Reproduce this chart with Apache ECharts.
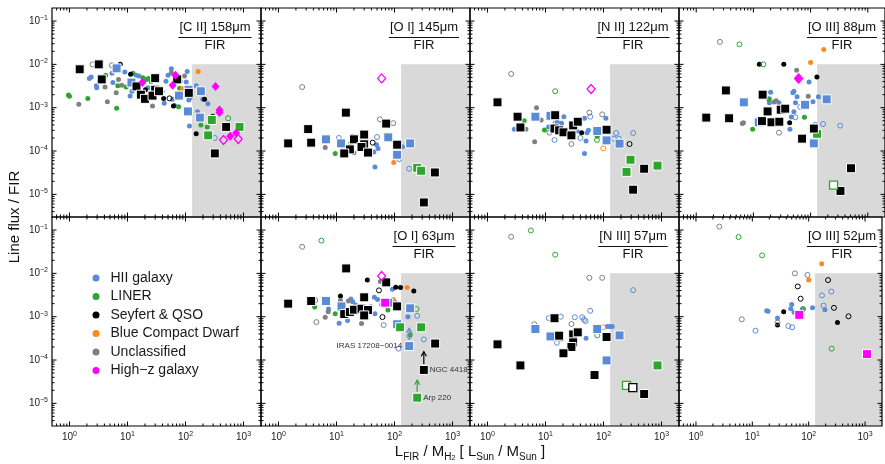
<!DOCTYPE html>
<html><head><meta charset="utf-8">
<script src="https://cdn.jsdelivr.net/npm/echarts@6/dist/echarts.min.js"></script>
<style>html,body{margin:0;padding:0;background:#fff}#c{width:885px;height:464px}</style>
</head><body><div id="c"></div>
<script>
// ---------- DATA ----------
// point format: [L_FIR/M_H2, line/FIR, class+marker, optional label]
// class: H=HII, L=LINER, S=Seyfert&QSO, B=BCD, U=Unclassified, Z=High-z
// marker: d=dot, o=open circle, s=square, q=open square, D=diamond, E=open diamond
const classNames = {H:'HII galaxy', L:'LINER', S:'Seyfert & QSO', B:'Blue Compact Dwarf', U:'Unclassified', Z:'High\u2212z galaxy'};
const classOrder = ['H','L','S','B','U','Z'];
const panelTitles = ['[C II] 158\u03bcm','[O I] 145\u03bcm','[N II] 122\u03bcm','[O III] 88\u03bcm','','[O I] 63\u03bcm','[N III] 57\u03bcm','[O III] 52\u03bcm'];
const xTickValues = [1, 10, 100, 1000];
const yTickValues = [1e-5, 1e-4, 1e-3, 1e-2, 1e-1];
const shadeFrom = [130, 1e-2];

const ciiData = [
 [1.5,7.7e-3,'Ss'],[3.2,1.0e-2,'Ss'],[3.6,4.5e-3,'Ss'],[14.3,3.1e-3,'Ss'],[17,2.0e-3,'Ss'],[20,1.6e-3,'Ss'],[30,4.8e-3,'Ss'],[30,2.6e-3,'Ss'],[27,1.9e-3,'Ss'],[35,2.4e-3,'Ss'],[72,4.5e-3,'Ss'],[114,2.2e-3,'Ss'],[502,3.6e-4,'Ss'],[320,8.8e-5,'Ss'],
 [6.5,8.1e-3,'Hs'],[11.7,3.8e-3,'Hs'],[77,1.9e-3,'Hs'],[113,2.6e-3,'Hs'],[184,2.4e-3,'Hs'],[110,8.2e-4,'Hs'],[177,5.9e-4,'Hs'],
 [284,5.2e-4,'Ls'],[246,2.3e-4,'Ls'],[853,3.6e-4,'Ls'],
 [18,3.8e-3,'ZD'],[60,3.3e-3,'ZD'],[67,5.6e-3,'ZD'],[329,3.1e-3,'ZD'],[385,8.8e-4,'ZD'],[385,7.7e-4,'ZD'],[589,2.2e-4,'ZD'],[748,2.6e-4,'ZD'],
 [452,1.8e-4,'ZE'],[809,1.9e-4,'ZE'],
 [165,6.8e-3,'Bd'],[88,2.75e-3,'Bd'],
 [0.96,1.96e-3,'Ld'],[1.0,1.83e-3,'Ld'],[2.07,1.64e-3,'Ld'],[6.5,9.7e-4,'Ld'],[4.2,5.6e-3,'Ld'],[6.8,3.2e-3,'Ld'],[9.5,3.0e-3,'Ld'],[12.4,6.2e-3,'Ld'],[18.4,4.9e-3,'Ld'],[21,4.5e-3,'Ld'],[23,4.75e-3,'Ld'],[25.6,4.0e-3,'Ld'],[76,1.05e-3,'Ld'],[184,4.0e-4,'Ld'],[237,3.6e-4,'Ld'],[79,2.8e-3,'Ld'],
 [5.4,9.5e-3,'Lo'],[544,5.7e-4,'Lo'],
 [7.5,1.0e-2,'Sd'],[11.3,5.9e-3,'Sd'],[20.4,2.6e-3,'Sd'],[42,1.64e-3,'Sd'],[62,1.09e-3,'Sd'],[153,2.5e-4,'Sd'],[213,1.56e-3,'Sd'],
 [53,1.64e-3,'So'],[296,6.2e-4,'So'],
 [1.45,1.2e-3,'Ud'],[4.1,3.0e-3,'Ud'],[4.5,1.37e-3,'Ud'],[6.4,2.2e-3,'Ud'],[7.0,4.5e-3,'Ud'],[8,3.3e-3,'Ud'],[27,1.09e-3,'Ud'],[57,6.4e-3,'Ud'],[96,5.4e-3,'Ud'],
 [2.5,1.0e-2,'Uo'],
 [2.2,4.75e-3,'Hd'],[2.37,5.1e-3,'Hd'],[2.9,3.2e-3,'Hd'],[2.95,2.9e-3,'Hd'],[5.4,6.2e-3,'Hd'],[5.6,3.8e-3,'Hd'],[9,6.7e-3,'Hd'],[11.1,1.86e-3,'Hd'],[12,2.4e-3,'Hd'],[14.1,5.6e-3,'Hd'],[15.7,5.4e-3,'Hd'],[22.4,2.9e-3,'Hd'],[25.6,2.2e-3,'Hd'],[39.6,2.4e-3,'Hd'],[43,1.26e-3,'Hd'],[46,4.1e-3,'Hd'],[57,7.9e-3,'Hd'],[50,5.6e-3,'Hd'],[60,1.56e-3,'Hd'],[65,1.13e-3,'Hd'],[103,3.9e-3,'Hd'],[107,6.8e-3,'Hd'],[114,1.5e-3,'Hd'],[120,1.7e-3,'Hd'],[117,3.8e-4,'Hd'],[153,3.2e-3,'Hd'],[161,8.1e-4,'Hd'],[199,1.56e-3,'Hd'],[243,1.24e-3,'Hd'],[81,4.1e-3,'Hd'],
 [320,2.0e-4,'Ho']
];
const oi145Data = [
 [2.56,3.0e-3,'Uo'],[56,5.4e-4,'Uo'],[95,4.4e-4,'Uo'],
 [60,4.75e-3,'ZE'],
 [14.5,7.7e-4,'Ss'],[3.25,3.2e-4,'Ss'],[1.47,1.5e-4,'Ss'],[3.66,1.56e-4,'Ss'],[72,4.3e-4,'Ss'],[20,1.86e-4,'Ss'],[30,2.4e-4,'Ss'],[30,1.43e-4,'Ss'],[17,1.09e-4,'Ss'],[13.6,8.8e-5,'Ss'],[27,1.24e-4,'Ss'],[35,9.2e-5,'Ss'],[111,1.4e-4,'Ss'],[496,3.2e-5,'Ss'],[320,6.5e-6,'Ss'],
 [6.6,1.86e-4,'Hs'],[12,1.5e-4,'Hs'],[78,2.07e-4,'Hs'],[186,1.5e-4,'Hs'],[111,8.2e-5,'Hs'],
 [246,4.1e-5,'Ls'],[288,3.5e-5,'Ls'],
 [97,5.4e-5,'Bd'],
 [9.5,8.8e-5,'Ld'],[17.7,1.56e-4,'Ld'],
 [6.4,1.2e-4,'Ud'],
 [42,1.56e-4,'So'],
 [19,2.2e-4,'Hd'],[20,9.1e-5,'Hd'],[46,4.3e-5,'Hd'],[49,1.4e-4,'Hd'],[52,1.15e-4,'Hd'],[137,1.26e-4,'Hd'],[44,9.5e-5,'Hd'],[26,1.3e-4,'Hd'],
 [11,2.0e-4,'Ho'],[50,2.1e-4,'Ho'],[179,3.9e-5,'Ho'],[120,6.5e-5,'Ho']
];
const nii122Data = [
 [2.56,6.0e-3,'Uo'],[57,7.7e-4,'Uo'],[95,7.0e-4,'Uo'],[28,1.45e-4,'Uo'],[11.7,2.65e-4,'Uo'],
 [14.7,2.4e-3,'Lo'],[77,1.8e-4,'Lo'],
 [61,2.7e-3,'ZE'],
 [1.49,1.33e-3,'Ss'],[3.3,6.2e-4,'Ss'],[3.7,3.5e-4,'Ss'],[14.3,3.3e-4,'Ss'],[17.2,3.0e-4,'Ss'],[20.4,2.7e-4,'Ss'],[28,2.3e-4,'Ss'],[30,3.9e-4,'Ss'],[36,4.75e-4,'Ss'],[113,3.1e-4,'Ss'],[502,3.9e-5,'Ss'],[324,1.28e-5,'Ss'],[14.7,6.7e-4,'Ss'],
 [6.7,6.2e-4,'Hs'],[12.2,6.5e-4,'Hs'],[78,2.9e-4,'Hs'],[113,1.76e-4,'Hs'],[189,1.48e-4,'Hs'],
 [292,6.3e-5,'Ls'],[249,3.3e-5,'Ls'],[853,4.6e-5,'Ls'],
 [7,1.0e-3,'Ud'],[8.4,5.2e-4,'Ud'],[4.6,3.2e-4,'Ud'],[6.5,1.64e-4,'Ud'],
 [4.3,5.0e-4,'Ld'],[9.6,3.05e-4,'Ld'],[78,2.2e-4,'Ld'],
 [99,1.15e-4,'Bo'],
 [281,1.45e-4,'So'],
 [42,2.65e-4,'Sd'],
 [2.9,3.2e-4,'Hd'],[20.7,6.2e-4,'Hd'],[18.9,4.35e-4,'Hd'],[11.3,3.6e-4,'Hd'],[47,5.7e-4,'Hd'],[47,8.8e-5,'Hd'],[50,1.7e-4,'Hd'],[52,2.65e-4,'Hd'],[110,5.7e-4,'Hd'],[35,2.9e-4,'Hd'],[16,4.6e-4,'Hd'],[55,3.0e-4,'Hd'],
 [14.3,1.8e-4,'Ho'],[59,6.2e-4,'Ho'],[324,2.6e-4,'Ho'],[165,2.6e-4,'Ho'],[184,1.93e-4,'Ho'],[150,1.93e-4,'Ho'],[40,2.0e-4,'Ho'],[15,4.4e-4,'Ho']
];
const oiii88Data = [
 [2.6,3.3e-2,'Uo'],[28,2.65e-4,'Uo'],
 [5.7,2.9e-2,'Lo'],[14.9,1.0e-2,'Lo'],
 [170,2.2e-2,'Bd'],[100,1.1e-2,'Bd'],
 [12.7,1.0e-2,'Sd'],[34,1.0e-2,'Sd'],[129,5.1e-3,'Sd'],[43,4.5e-4,'Sd'],
 [57,7.3e-3,'Ud'],[6.7,4.5e-4,'Ud'],[6.4,4.3e-4,'Ud'],[23,1.35e-3,'Ud'],[25,1.45e-3,'Ud'],[91,1.83e-3,'Ud'],
 [60,4.7e-3,'ZD'],[62,4.7e-3,'ZE'],
 [94,3.9e-3,'Hd'],[20,2.26e-3,'Hd'],[19,1.3e-3,'Hd'],[28,1.3e-3,'Hd'],[49,2.2e-3,'Hd'],[51,2.4e-3,'Hd'],[58,1.8e-3,'Hd'],[54.4,1.3e-3,'Hd'],[51,8.1e-4,'Hd'],[46,6.1e-4,'Hd'],[43.5,3.2e-4,'Hd'],[110,1.37e-3,'Hd'],[137,1.8e-3,'Hd'],[19,1.6e-3,'Hd'],
 [54,6.0e-4,'Ho'],[66,1.04e-3,'Ho'],[165,4.2e-4,'Ho'],[329,3.85e-4,'Ho'],[120,4.0e-4,'Ho'],
 [3.3,2.5e-3,'Ss'],[14.5,2.0e-3,'Ss'],[1.5,5.9e-4,'Ss'],[3.76,5.7e-4,'Ss'],[17.7,8.2e-4,'Ss'],[30,9.0e-4,'Ss'],[36,9.5e-4,'Ss'],[14.1,4.9e-4,'Ss'],[20.7,4.6e-4,'Ss'],[28.4,4.75e-4,'Ss'],[114,3.3e-4,'Ss'],[71,1.93e-4,'Ss'],[509,4.0e-5,'Ss'],[333,1.2e-5,'Ss'],
 [6.8,1.33e-3,'Hs'],[80,1.17e-3,'Hs'],[191,1.56e-3,'Hs'],[12.4,4.6e-4,'Hs'],[114,1.5e-4,'Hs'],
 [130,2.5e-4,'Ls'],[252,1.64e-5,'Lq'],
 [9.7,3.2e-4,'Ld'],[18.6,1.56e-3,'Ld'],[78,6.0e-4,'Ld']
];
const oi63Data = [
 [2.56,4.1e-2,'Uo'],[4.5,7.5e-4,'Uo'],
 [5.5,5.7e-2,'Lo'],[4.3,2.4e-3,'Lo'],[239,1.5e-3,'Lo'],
 [1.47,2.0e-3,'Ss'],[3.66,2.3e-3,'Ss'],[14.7,1.3e-2,'Ss'],[72,6.2e-3,'Ss'],[30,2.8e-3,'Ss'],[13.6,1.15e-3,'Ss'],[17,1.28e-3,'Ss'],[20,1.45e-3,'Ss'],[27,1.53e-3,'Ss'],[35,1.43e-3,'Ss'],[30,1.07e-3,'Ss'],[111,1.73e-3,'Ss'],[502,2.4e-4,'Ss'],[320,5.9e-5,'Ss','NGC 4418'],
 [6.6,2.3e-3,'Hs'],[12.2,1.73e-3,'Hs'],[78,2.1e-3,'Hs'],[186,1.56e-3,'Hs'],[111,6.7e-4,'Hs'],[179,2.1e-4,'Hs','IRAS 17208\u22120014'],
 [69,2.1e-3,'Zs'],[60,8.7e-3,'ZE'],
 [125,5.7e-4,'Ls'],[288,5.7e-4,'Ls'],[246,1.35e-5,'Ls','Arp 220'],
 [165,4.7e-3,'Bd'],[95,2.5e-3,'Bd'],
 [34,7.0e-3,'Sd'],[105,4.8e-3,'Sd'],[127,4.75e-3,'Sd'],[215,3.9e-3,'Sd'],[11.7,3.0e-3,'Sd'],
 [54,4.05e-3,'So'],[62,9.8e-4,'So'],
 [57,6.5e-3,'Ud'],[6.4,9.7e-4,'Ud'],[27,7.0e-4,'Ud'],[11.7,2.4e-3,'Ud'],[7.2,1.3e-3,'Ud'],[16,2.3e-3,'Ud'],
 [4.2,1.67e-3,'Ld'],[9.5,1.17e-3,'Ld'],[77,1.43e-3,'Ld'],[186,3.85e-4,'Ld'],
 [11.1,7.1e-4,'Hd'],[15.5,8.2e-4,'Hd'],[17.7,2.56e-3,'Hd'],[19,2.2e-3,'Hd'],[7.3,1.5e-3,'Hd'],[46,1.17e-3,'Hd'],[51,2.5e-3,'Hd'],[92,4.3e-3,'Hd'],[170,1.0e-3,'Hd'],[39,1.7e-3,'Hd'],[21.5,1.86e-3,'Hd'],[33,9.5e-4,'Hd'],[45,2.8e-3,'Hd'],[60,1.9e-3,'Hd'],[100,2.2e-3,'Hd'],
 [65,6.4e-4,'Ho'],[246,1.05e-3,'Ho'],[117,1.83e-4,'Ho'],[320,3.0e-4,'Ho'],[180,3.6e-4,'Ho']
];
const oi63Arrows = [[179,2.1e-4,5.4e-4,'H'],[320,5.9e-5,1.55e-4,'S'],[246,1.35e-5,3.4e-5,'L']];
const niii57Data = [
 [2.56,7.0e-2,'Uo'],[57,7.9e-3,'Uo'],[95,7.9e-3,'Uo'],[28,6.8e-4,'Uo'],[6.4,6.7e-4,'Uo'],
 [5.6,9.8e-2,'Lo'],[14.7,2.7e-2,'Lo'],[78,3.7e-4,'Lo'],
 [324,4.1e-3,'Ho'],[59,1.37e-3,'Ho'],[11.4,9.3e-4,'Ho'],[18.4,1.0e-3,'Ho'],[32,9.7e-4,'Ho'],[43,9.7e-4,'Ho'],[46,8.5e-4,'Ho'],[49,7.9e-4,'Ho'],[15.7,2.5e-4,'Ho'],
 [99,5.7e-4,'Bo'],
 [116,5.9e-4,'Hd'],[128,5.9e-4,'Hd'],[141,5.9e-4,'Hd'],[50,3.2e-4,'Hd'],[19,3.05e-4,'Hd'],
 [1.49,2.3e-4,'Ss'],[3.7,7.5e-5,'Ss'],[14.3,9.2e-4,'Ss'],[17.2,3.65e-4,'Ss'],[30,3.9e-4,'Ss'],[36,4.35e-4,'Ss'],[30,2.56e-4,'Ss'],[28,2.0e-4,'Ss'],[20.4,1.43e-4,'Ss'],[113,3.4e-4,'Ss'],[70,4.5e-5,'Ss'],[502,1.64e-5,'Ss'],
 [320,2.3e-5,'Sq'],
 [6.7,5.2e-4,'Hs'],[12.2,3.5e-4,'Hs'],[78,5.2e-4,'Hs'],[189,3.7e-4,'Hs'],[113,9.8e-5,'Hs'],
 [853,7.5e-5,'Ls'],[249,2.6e-5,'Lq']
];
const oiii52Data = [
 [2.6,0.12,'Uo'],[57,1.0e-2,'Uo'],[95,9.2e-3,'Uo'],[6.5,8.7e-4,'Uo'],[28,7.3e-4,'Uo'],
 [5.7,6.9e-2,'Lo'],[14.9,2.6e-2,'Lo'],[79,1.5e-3,'Lo'],[256,1.83e-4,'Lo'],
 [170,1.67e-2,'Bd'],[100,7.0e-3,'Bd'],
 [221,7.0e-3,'So'],[64,5.0e-3,'So'],[72,2.6e-3,'So'],[281,1.6e-3,'So'],[509,1.02e-3,'So'],
 [252,3.8e-3,'Ho'],[172,3.1e-3,'Ho'],[184,1.8e-3,'Ho'],[43.5,6.1e-4,'Ho'],[51,5.7e-4,'Ho'],[11.4,4.75e-4,'Ho'],
 [50,1.9e-3,'Hd'],[48,1.53e-3,'Hd'],[55,1.26e-3,'Hd'],[80,1.5e-3,'Hd'],[117,1.6e-3,'Hd'],[194,1.45e-3,'Hd'],[18,1.37e-3,'Hd'],[19,1.33e-3,'Hd'],[28,9.3e-4,'Hd'],
 [36,1.3e-3,'Sd'],[28,6.4e-4,'Sd'],[324,7.3e-4,'Sd'],
 [68,1.1e-3,'Zs'],[1082,1.37e-4,'Zs']
];
const panelData = [ciiData, oi145Data, nii122Data, oiii88Data, null, oi63Data, niii57Data, oiii52Data];

// ---------- STYLE / LAYOUT ----------
const FONT = '"Liberation Sans", Arial, sans-serif';
const X_MIN = 0.5, X_MAX = 2000, Y_MIN = 3e-6, Y_MAX = 0.2;
const classColor = {H:'#5b8bd6', L:'#2ea52e', S:'#000000', B:'#ff8a1c', U:'#808080', Z:'#ff00ff'};
const gridLefts = [52, 261, 470, 679], gridTops = [8, 217], GW = 209, GH = 209;
const markerOrder = ['d','s','D','o','q','E'];
const markerStyle = {
  d: c => ({symbol:'circle', symbolSize:5, itemStyle:{color:c, opacity:1}, z:2}),
  o: c => ({symbol:'circle', symbolSize:5, itemStyle:{color:'rgba(255,255,255,0)', borderColor:c, borderWidth:1, opacity:1}, z:2}),
  s: c => ({symbol:'rect', symbolSize:9, itemStyle:{color:c, borderColor:'#fff', borderWidth:1, opacity:1}, z:4}),
  q: c => ({symbol:'rect', symbolSize:8, itemStyle:{color:'#fff', borderColor:c, borderWidth:1.3, opacity:1}, z:4}),
  D: c => ({symbol:'diamond', symbolSize:[8,9], itemStyle:{color:c, opacity:1}, z:5}),
  E: c => ({symbol:'diamond', symbolSize:[8,9], itemStyle:{color:'rgba(255,255,255,0)', borderColor:c, borderWidth:1.3, opacity:1}, z:5})
};

function minorList(lo, hi){
  const out=[];
  for(let e=-7;e<=4;e++){ for(let m=2;m<=9;m++){ const v=m*Math.pow(10,e); if(v>lo*1.0001 && v<hi*0.9999) out.push(v);} }
  return out;
}
const xMinor = minorList(X_MIN, X_MAX), yMinor = minorList(Y_MIN, Y_MAX);
const tickData = [].concat(
  xTickValues.map(v=>[v,1e-3,0]), xMinor.map(v=>[v,1e-3,1]),
  yTickValues.map(v=>[10,v,2]), yMinor.map(v=>[10,v,3]));

function powLabel(v){
  const l=Math.log10(v), e=Math.round(l);
  if(Math.abs(l-e)>1e-6) return '';
  return '10{e|'+(e<0?'\u2212'+(-e):e)+'}';
}
const supRich = {e:{fontSize:7, lineHeight:6, verticalAlign:'top', fontFamily:FONT, color:'#222'}};

function tickRender(params, api){
  const cs = params.coordSys;
  const kind = api.value(2);
  const len = (kind===0||kind===2)?4.5:2.5;
  const st = {stroke:'#000', lineWidth:1};
  if(kind<2){
    const px = api.coord([api.value(0), 1e-3])[0];
    return {type:'group', children:[
      {type:'line', shape:{x1:px,y1:cs.y+cs.height,x2:px,y2:cs.y+cs.height-len}, style:st},
      {type:'line', shape:{x1:px,y1:cs.y,x2:px,y2:cs.y+len}, style:st}]};
  } else {
    const py = api.coord([10, api.value(1)])[1];
    return {type:'group', children:[
      {type:'line', shape:{x1:cs.x,y1:py,x2:cs.x+len,y2:py}, style:st},
      {type:'line', shape:{x1:cs.x+cs.width,y1:py,x2:cs.x+cs.width-len,y2:py}, style:st}]};
  }
}

const grids=[], xAxes=[], yAxes=[], series=[];
for(let i=0;i<8;i++){
  const col=i%4, row=Math.floor(i/4);
  grids.push({left:gridLefts[col], top:gridTops[row], width:GW, height:GH, show:true, borderColor:'#000', borderWidth:1.2, backgroundColor:'rgba(0,0,0,0)', z:5});
  xAxes.push({type:'log', logBase:10, gridIndex:i, min:X_MIN, max:X_MAX,
    axisLine:{show:false}, axisTick:{show:false}, splitLine:{show:false},
    axisLabel:{show:row===1, formatter:powLabel, margin:5, fontSize:10, lineHeight:13, color:'#222', fontFamily:FONT, rich:supRich}});
  yAxes.push({type:'log', logBase:10, gridIndex:i, min:Y_MIN, max:Y_MAX,
    axisLine:{show:false}, axisTick:{show:false}, splitLine:{show:false},
    axisLabel:{show:col===0, formatter:powLabel, margin:4, fontSize:10, lineHeight:13, color:'#222', fontFamily:FONT, rich:supRich}});
  series.push({type:'custom', name:'ticks', xAxisIndex:i, yAxisIndex:i, renderItem:tickRender, data:tickData, clip:false, silent:true, z:6, encode:{x:0,y:1}});
  const pd = panelData[i];
  if(!pd) continue;
  let first = true;
  markerOrder.forEach(mk=>{
    classOrder.forEach(cl=>{
      const pts = pd.filter(p=>p[2]===cl+mk);
      if(!pts.length) return;
      const st = markerStyle[mk](classColor[cl]);
      const s = Object.assign({type:'scatter', name:classNames[cl], xAxisIndex:i, yAxisIndex:i, silent:true,
        data: pts.map(p=>{
          if(p[3]){
            const isLeft = p[3].indexOf('IRAS')===0;
            return {value:[p[0],p[1]], label:{show:true, formatter:p[3], position:isLeft?'left':'right', distance:isLeft?2:1, fontSize:8, color:'#333', fontFamily:FONT}};
          }
          return [p[0],p[1]];
        })}, st);
      if(first){
        s.markArea = {silent:true, itemStyle:{color:'#d9d9d9', opacity:1}, data:[[{xAxis:shadeFrom[0], yAxis:shadeFrom[1]},{xAxis:X_MAX, yAxis:Y_MIN}]]};
        first = false;
      }
      series.push(s);
    });
  });
}
// lower-limit arrows in the [O I] 63 panel
series.push({type:'custom', name:'arrows', xAxisIndex:5, yAxisIndex:5, silent:true, clip:false, z:3,
  data: oi63Arrows.map(a=>[a[0],a[1],a[2]]), encode:{x:0,y:1},
  renderItem:function(params, api){
    const p = api.coord([api.value(0), api.value(1)]);
    const t = api.coord([api.value(0), api.value(2)]);
    const c = classColor[oi63Arrows[params.dataIndex][3]];
    const st = {stroke:c, lineWidth:1.2, fill:null};
    return {type:'group', children:[
      {type:'line', shape:{x1:p[0],y1:p[1]-6,x2:t[0],y2:t[1]}, style:st},
      {type:'polyline', shape:{points:[[t[0]-2.6,t[1]+4.5],[t[0],t[1]],[t[0]+2.6,t[1]+4.5]]}, style:st}]};
  }});

// ---------- TEXT GRAPHICS ----------
const ctx = document.createElement('canvas').getContext('2d');
ctx.font = '13px "Liberation Sans"';
const graphics = [];
panelTitles.forEach((t,i)=>{
  if(!t) return;
  const col=i%4, row=Math.floor(i/4);
  const cx = gridLefts[col]+163, top = gridTops[row];
  const w = ctx.measureText(t).width + 2;
  graphics.push({type:'text', x:cx, y:top+19, style:{text:t, font:'13px '+FONT, fill:'#111', align:'center', verticalAlign:'middle'}});
  graphics.push({type:'line', shape:{x1:cx-w/2, y1:top+29.5, x2:cx+w/2, y2:top+29.5}, style:{stroke:'#111', lineWidth:1}});
  graphics.push({type:'text', x:cx, y:top+37.5, style:{text:'FIR', font:'13px '+FONT, fill:'#111', align:'center', verticalAlign:'middle'}});
});
graphics.push({type:'text', x:15, y:217, rotation:Math.PI/2, style:{text:'Line flux / FIR', font:'15px '+FONT, fill:'#111', align:'center', verticalAlign:'middle'}});
graphics.push({type:'text', x:470, y:452, style:{
  text:'L{s|FIR} / M{s|H}{ss|2} [ L{s|Sun} / M{s|Sun} ]', font:'15px '+FONT, fill:'#111', align:'center', verticalAlign:'middle', lineHeight:20,
  rich:{s:{fontSize:10, lineHeight:11, verticalAlign:'bottom', fontFamily:FONT, fill:'#111'}, ss:{fontSize:7, lineHeight:6, verticalAlign:'bottom', fontFamily:FONT, fill:'#111'}}}});

const chart = echarts.init(document.getElementById('c'), null, {renderer:'canvas'});
chart.setOption({
  animation:false,
  backgroundColor:'#fff',
  textStyle:{fontFamily:FONT},
  grid:grids, xAxis:xAxes, yAxis:yAxes, series:series,
  legend:{orient:'vertical', left:87.5, top:265, itemWidth:7, itemHeight:7, itemGap:2.5, selectedMode:false,
    textStyle:{fontSize:14, lineHeight:16, color:'#1a1a1a', fontFamily:FONT, padding:[0,0,0,6]},
    data: classOrder.map(k=>({name:classNames[k], icon:'circle', itemStyle:{color:classColor[k], borderWidth:0, opacity:1}}))},
  graphic:graphics
});
</script></body></html>
